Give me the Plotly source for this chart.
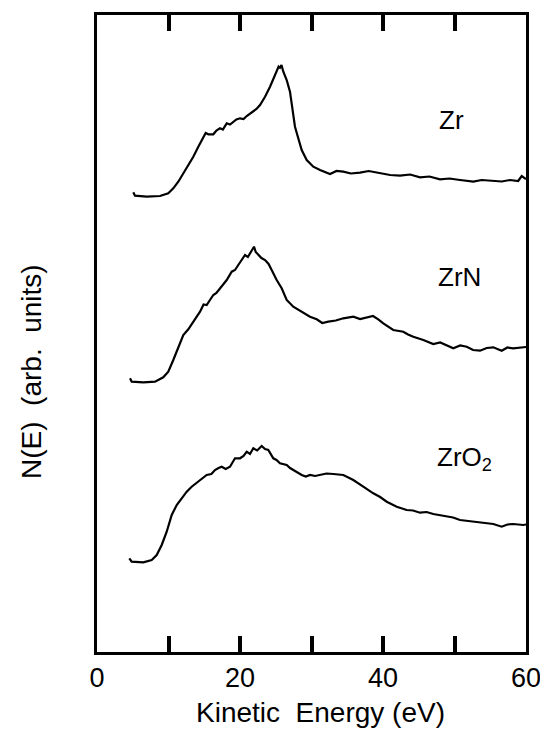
import plotly.graph_objects as go

# Kinetic energy (eV) and N(E) in arbitrary units
zr_e = [5.08, 5.31, 6.95, 8.81, 9.97, 10.67, 11.37, 12.07, 12.77, 13.47, 14.17, 14.87,
        15.2, 15.57, 16.27, 16.7, 17.2, 17.6, 18.14, 18.6, 19.06, 19.5, 20.0, 20.5, 20.94,
        21.4, 21.86, 22.3, 22.8, 23.5, 24.2, 24.66, 25.13, 25.4, 25.59, 25.8, 26.06, 26.53,
        26.99, 27.37, 27.69, 28.15, 28.63, 29.33, 30.25, 31.19, 32.59, 33.5, 34.45, 35.5,
        36.78, 38.0, 39.58, 41.0, 42.38, 43.8, 45.17, 46.5, 47.97, 49.3, 50.77, 52.63,
        53.8, 55.43, 56.6, 57.76, 58.9, 59.4, 60.0]
zr_n = [459.7, 456.3, 455.3, 456, 458.7, 463.7, 470.3, 478.7, 487, 495.3, 505.3, 515.3,
        519, 517.7, 517.7, 521.5, 523.7, 522.5, 528.7, 527.5, 530.3, 532.5, 533.7, 533, 536,
        538.5, 541, 543, 547, 555.3, 565.3, 573.7, 580.3, 585.5, 584.3, 587, 580.3, 572,
        560.3, 543.7, 525.3, 513.7, 502, 492, 485.3, 482, 478, 481, 480.3, 478.5,
        479.3, 481, 478.7, 477, 476.3, 477.5, 474.7, 475.5, 472.7, 473.5, 472, 470.3,
        472, 471, 470.5, 472, 471, 476, 473]

zrn_e = [4.62, 4.85, 6.48, 8.11, 9.27, 9.97, 10.67, 11.37, 12.07, 12.77, 13.47, 14.0,
         14.41, 14.9, 15.34, 15.8, 16.27, 16.7, 17.2, 17.7, 18.14, 18.84, 19.3, 19.76,
         20.2, 20.7, 21.1, 21.4, 21.7, 21.96, 22.2, 22.56, 23.0, 23.5, 24.0, 24.43, 25.13,
         25.83, 26.2, 26.53, 27.45, 28.63, 29.79, 30.73, 31.5, 32.35, 33.4, 34.45, 35.85,
         36.8, 37.72, 38.6, 39.34, 40.04, 41.44, 42.84, 43.5, 44.24, 45.64, 47.03, 48.0,
         48.91, 49.83, 50.8, 51.71, 52.6, 53.57, 54.5, 55.43, 56.6, 57.4, 58.22, 59.62, 60.0]
zrn_n = [273.7, 270.3, 269.7, 270.3, 274.7, 280.3, 292, 305.3, 317, 322.7, 330.3, 336,
         340.3, 347.5, 347, 352, 357, 359, 363.7, 369, 372, 380.3, 382, 387,
         392, 397, 395, 398.7, 401, 405.3, 400, 397, 394, 392, 388, 382, 372,
         363.7, 357, 352, 345.3, 340.3, 335.3, 332.7, 329, 330.3, 331.5, 333.7, 335.3,
         333, 334.7, 336, 332.7, 328.7, 322, 320.3, 317.5, 315.3, 312, 308, 309.5,
         307, 303.7, 306.5, 305.3, 302, 301.3, 304, 304.7, 301.3, 304.5, 303.7, 305.3, 305]

zro2_e = [4.52, 4.85, 6.48, 7.65, 8.35, 9.05, 9.75, 10.45, 11.15, 11.85, 12.55, 13.24,
          14.17, 14.8, 15.34, 16.0, 16.5, 17.0, 17.44, 18.0, 18.6, 19.3, 20.0, 20.5, 20.94,
          21.4, 21.86, 22.4, 23.03, 23.5, 23.96, 24.66, 25.1, 25.59, 26.53, 27.0, 27.45,
          28.0, 28.63, 29.2, 29.79, 30.5, 31.19, 32.1, 33.05, 34.45, 35.85, 36.5, 37.24,
          38.64, 39.6, 40.52, 41.92, 43.31, 44.2, 45.17, 46.1, 47.03, 48.91, 49.8, 50.77,
          52.2, 53.57, 55.43, 56.6, 57.4, 58.22, 59.62, 60.0]
zro2_n = [93.7, 90.3, 89.7, 92, 97, 107, 120.3, 137, 147, 153.7, 160.3, 165.3,
          170.3, 174, 177, 178, 182, 184, 185.3, 183, 185.3, 193.7, 193.7, 196, 200.3,
          198, 203.7, 201.5, 206, 203, 202, 193.7, 192, 188.7, 187, 184, 182,
          179.5, 177, 175.5, 177, 176, 177, 178.5, 178, 177, 172, 168.5, 165.3,
          158.7, 155, 150.3, 145.3, 142, 141.5, 139.3, 140, 138, 135.3, 134.5, 132,
          131, 129.3, 128, 125.3, 127.5, 128, 127, 127.5]

tick_vals = [0, 10, 20, 30, 40, 50, 60]
tick_text = ["0", "", "20", "", "40", "", "60"]

labels = ["Zr", "ZrN", "ZrO<sub>2</sub>"]
label_x = [49.6, 50.7, 51.4]
label_y = [532, 375, 194]

fig = go.Figure()
for e, n in [(zr_e, zr_n), (zrn_e, zrn_n), (zro2_e, zro2_n)]:
    fig.add_trace(go.Scatter(x=e, y=n, mode="lines",
                             line=dict(color="black", width=2.2),
                             showlegend=False, hoverinfo="skip"))

for t, x, y in zip(labels, label_x, label_y):
    fig.add_annotation(x=x, y=y, text=t, showarrow=False,
                       font=dict(family="Liberation Sans, Arial", size=26, color="black"))

fig.add_annotation(xref="paper", yref="paper", x=0.52, y=-0.095,
                   text="Kinetic  Energy (eV)", showarrow=False, yanchor="middle",
                   font=dict(family="Liberation Sans, Arial", size=28, color="black"))
fig.add_annotation(xref="paper", yref="paper", x=-0.154, y=0.441,
                   text="N(E)  (arb.  units)", showarrow=False, textangle=-90,
                   xanchor="center", yanchor="middle",
                   font=dict(family="Liberation Sans, Arial", size=28, color="black"))

fig.update_layout(
    template="none",
    width=540, height=732,
    margin=dict(l=97, r=14, t=15, b=80, autoexpand=False),
    plot_bgcolor="white", paper_bgcolor="white",
    xaxis=dict(range=[0, 60], tickmode="array", tickvals=tick_vals, ticktext=tick_text,
               ticks="inside", ticklen=16, tickwidth=3.5, tickcolor="black",
               showline=True, linewidth=2.5, linecolor="black", mirror="ticks",
               showgrid=False, zeroline=False, ticklabeloverflow="allow",
               automargin=False, layer="above traces",
               tickfont=dict(family="Liberation Sans, Arial", size=27, color="black")),
    yaxis=dict(range=[0, 637], showticklabels=False, ticks="",
               showline=True, linewidth=2.5, linecolor="black", mirror=True,
               showgrid=False, zeroline=False, automargin=False),
)

fig.write_html("out.html")
